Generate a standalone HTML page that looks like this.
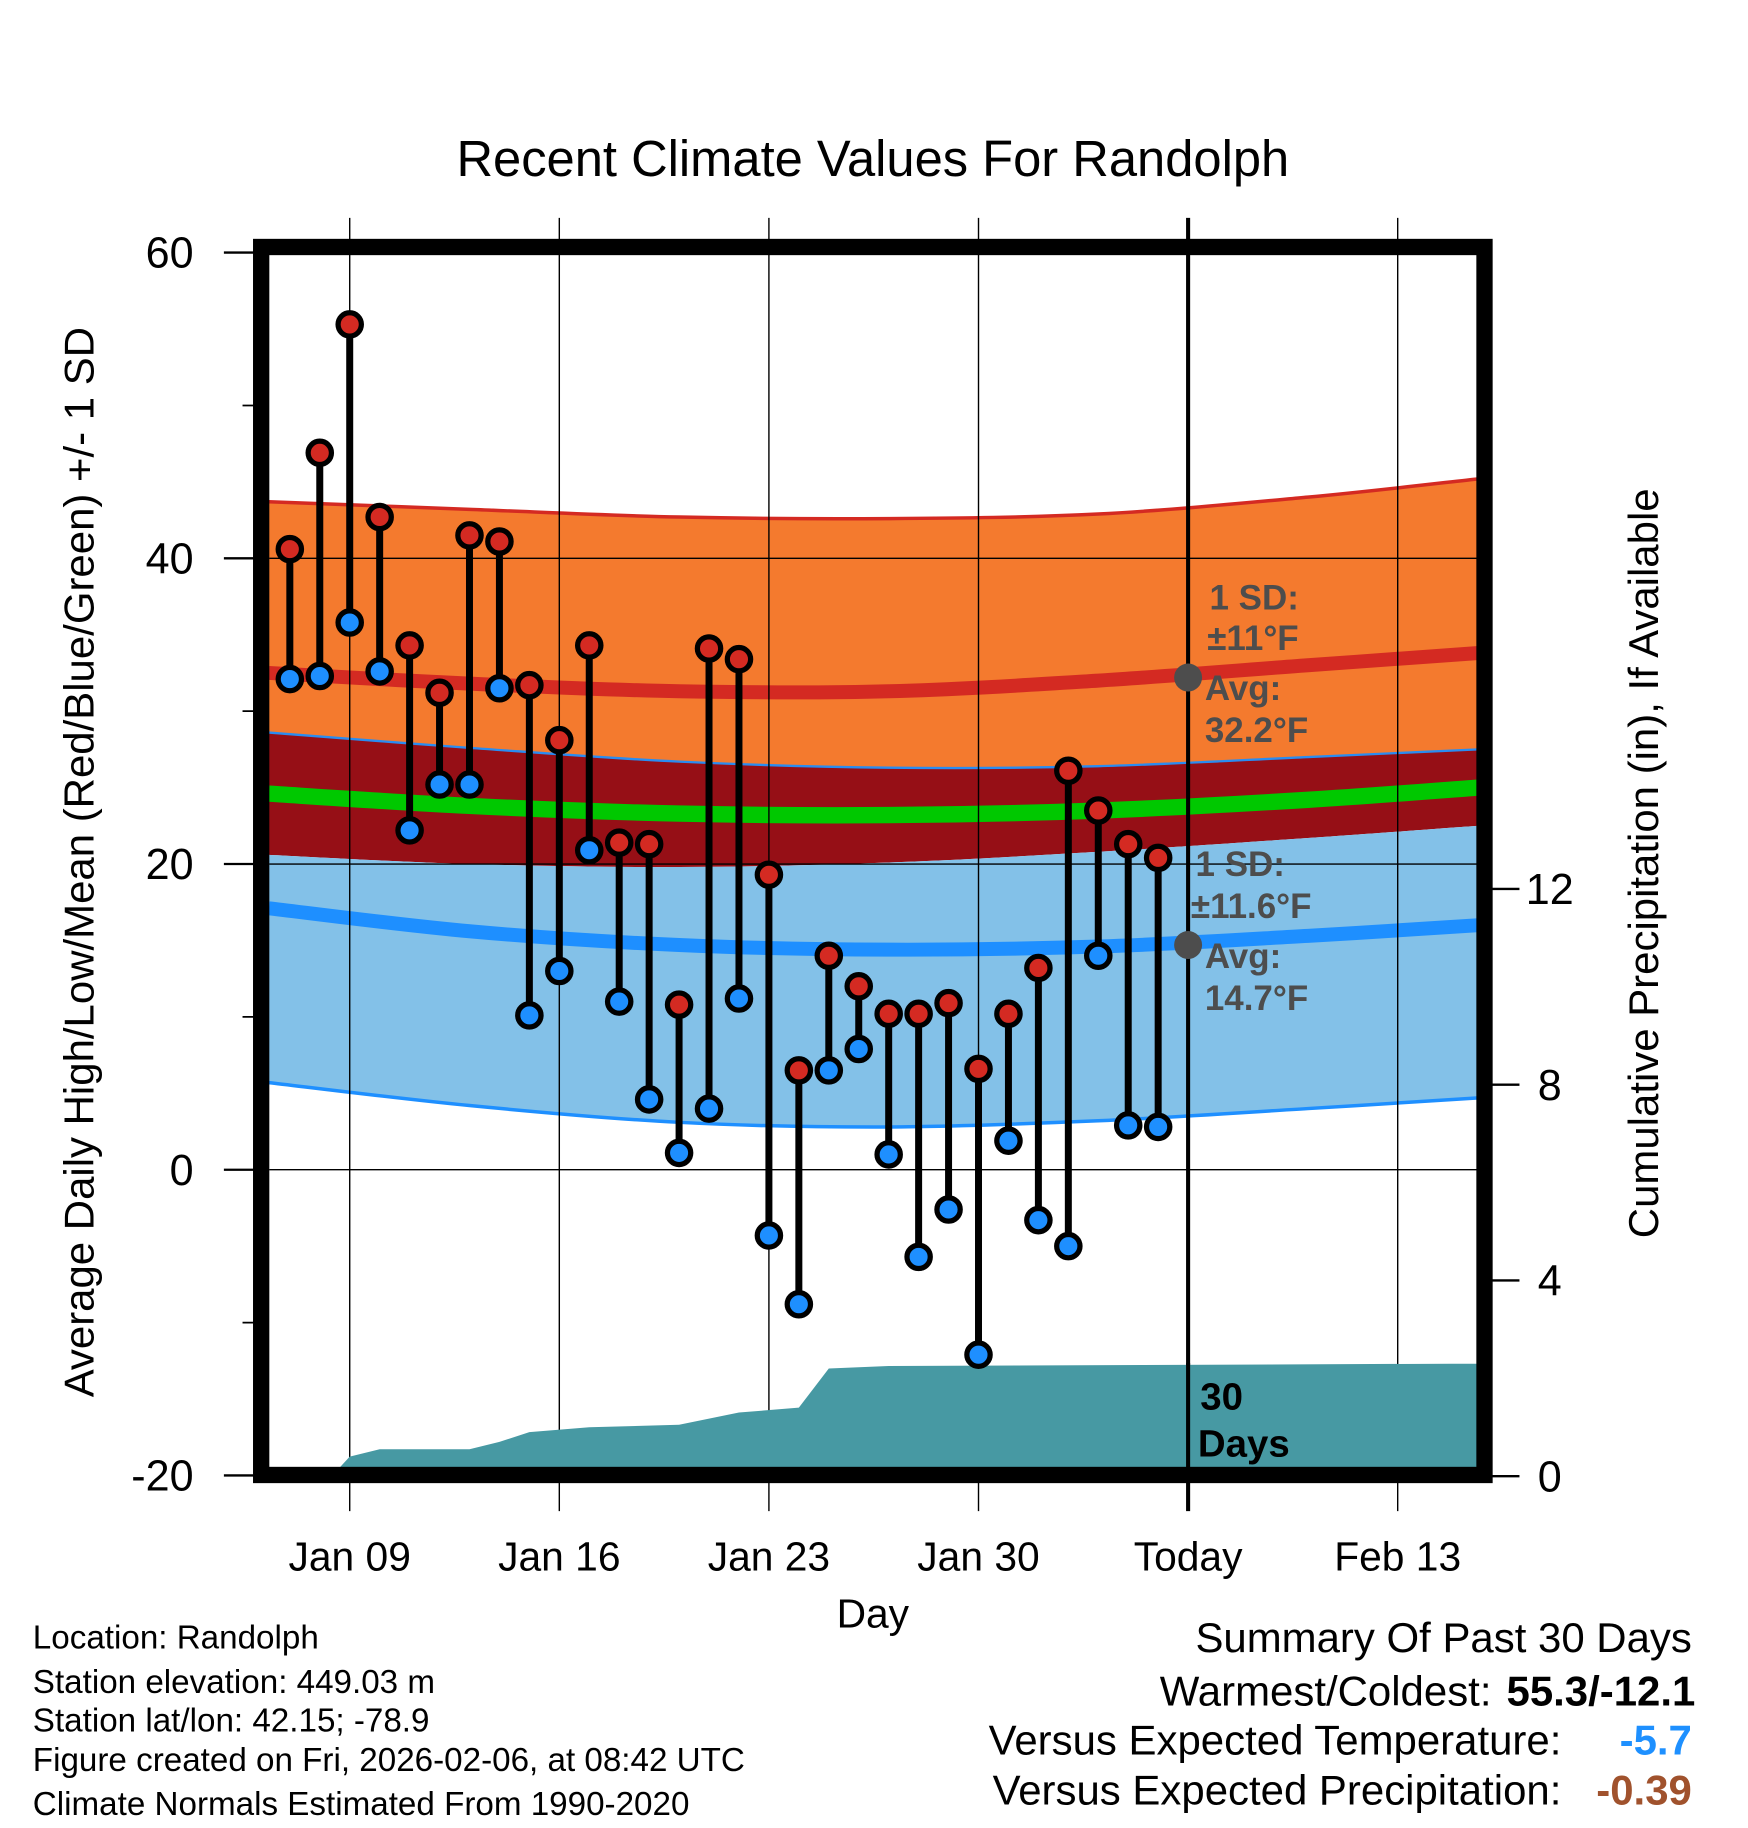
<!DOCTYPE html>
<html><head><meta charset="utf-8"><style>
html,body{margin:0;padding:0;background:#fff}
svg{display:block;font-family:"Liberation Sans",sans-serif}
</style></head><body>
<svg id="chart" xmlns="http://www.w3.org/2000/svg" width="1748" height="1828" viewBox="0 0 1500 1569">
<rect x="0" y="0" width="1500" height="1569" fill="#fff"/>
<g id="bands"></g>
<g id="grid"></g>
<g id="precip"></g>
<g id="marks"></g>
<g id="axes"></g>
<text x="749" y="151" font-size="43.5" text-anchor="middle">Recent Climate Values For Randolph</text>
<text transform="translate(80,740) rotate(-90)" font-size="36" text-anchor="middle">Average Daily High/Low/Mean (Red/Blue/Green) +/- 1 SD</text>
<text transform="translate(1423,741) rotate(-90)" font-size="36" text-anchor="middle">Cumulative Precipitation (in), If Available</text>
<text x="749" y="1397" font-size="35" text-anchor="middle">Day</text>
<g font-size="30" font-weight="bold" fill="#4d4d4d">
<text x="1038" y="523">1 SD:</text><text x="1036" y="558">±11°F</text>
<text x="1034" y="601">Avg:</text><text x="1034" y="637">32.2°F</text>
<text x="1026" y="752">1 SD:</text><text x="1022" y="788">±11.6°F</text>
<text x="1034" y="831">Avg:</text><text x="1034" y="867">14.7°F</text>
</g>
<g font-size="33" font-weight="bold">
<text x="1030" y="1210">30</text><text x="1028" y="1250">Days</text></g>
<g font-size="28.5">
<text x="28" y="1415">Location: Randolph</text>
<text x="28" y="1453">Station elevation: 449.03 m</text>
<text x="28" y="1486">Station lat/lon: 42.15; -78.9</text>
<text x="28" y="1520">Figure created on Fri, 2026-02-06, at 08:42 UTC</text>
<text x="28" y="1558">Climate Normals Estimated From 1990-2020</text>
</g>
<g font-size="36">
<text x="1452" y="1418" text-anchor="end">Summary Of Past 30 Days</text>
<text x="1280" y="1464" text-anchor="end">Warmest/Coldest:</text>
<text x="1455" y="1464" text-anchor="end" font-weight="bold">55.3/-12.1</text>
<text x="1340" y="1506" text-anchor="end">Versus Expected Temperature:</text>
<text x="1452" y="1506" text-anchor="end" font-weight="bold" fill="#1e90ff">-5.7</text>
<text x="1340" y="1549" text-anchor="end">Versus Expected Precipitation:</text>
<text x="1452" y="1549" text-anchor="end" font-weight="bold" fill="#a0522d">-0.39</text>
</g>
</svg>
<script>
const days=[7,8,9,10,11,12,13,14,15,16,17,18,19,20,21,22,23,24,25,26,27,28,29,30,31,32,33,34,35,36];
const highs=[40.6,46.9,55.3,42.7,34.3,31.2,41.5,41.1,31.7,28.1,34.3,21.4,21.3,10.8,34.1,33.4,19.3,6.5,14.0,12.0,10.2,10.2,10.9,6.6,10.2,13.2,26.1,23.5,21.3,20.4];
const lows=[32.1,32.3,35.8,32.6,22.2,25.2,25.2,31.5,10.1,13.0,20.9,11.0,4.6,1.1,4.0,11.2,-4.3,-8.8,6.5,7.9,1.0,-5.7,-2.6,-12.1,1.9,-3.3,-5.0,14.0,2.9,2.8];
const normDays=[6.3,13,20,27,34,41,46.7];
const highUpper=[43.7,43.2,42.7,42.6,42.9,44.0,45.2];
const highMean=[32.5,31.8,31.3,31.3,32.0,33.0,33.8];
const highLower=[28.6,27.6,26.7,26.3,26.4,27.0,27.5];
const meanVals=[24.6,23.8,23.3,23.2,23.5,24.2,25.0];
const lowUpper=[20.6,20.0,19.8,20.1,20.8,21.7,22.5];
const lowMean=[17.1,15.6,14.7,14.4,14.6,15.3,16.0];
const lowLower=[5.7,4.2,3.1,2.8,3.2,4.0,4.7];
const precipDays=[8.4,9,10,13,14,15,17,20,22,24,25,27,46.7];
const precipVals=[0,0.4,0.55,0.55,0.7,0.9,1.0,1.05,1.3,1.4,2.2,2.25,2.3];
const yTicks=[60,40,20,0,-20];
const pTicks=[0,4,8,12];
const xTickDays=[9,16,23,30,37,44];
const xTickLabels=["Jan 09","Jan 16","Jan 23","Jan 30","Today","Feb 13"];
const todayDay=37, todayHigh=32.2, todayLow=14.7;

const X=d=>300+(d-9)*25.7, Y=v=>1004-v*13.12, P=v=>1267-v*42;
const L=231,R=1268,T=219,B=1260;
const NS="http://www.w3.org/2000/svg";
function mk(parent,tag,attrs){const e=document.createElementNS(NS,tag);for(const k in attrs)e.setAttribute(k,attrs[k]);document.getElementById(parent).appendChild(e);return e;}
function pts(arr){return normDays.map((d,i)=>[X(d),Y(arr[i])]);}
function smooth(p,start){let s=start?'M'+p[0][0].toFixed(1)+','+p[0][1].toFixed(1):'L'+p[0][0].toFixed(1)+','+p[0][1].toFixed(1);
 for(let i=0;i<p.length-1;i++){const p0=p[Math.max(0,i-1)],p1=p[i],p2=p[i+1],p3=p[Math.min(p.length-1,i+2)];
  const c1=[p1[0]+(p2[0]-p0[0])/6,p1[1]+(p2[1]-p0[1])/6],c2=[p2[0]-(p3[0]-p1[0])/6,p2[1]-(p3[1]-p1[1])/6];
  s+='C'+c1.map(v=>v.toFixed(1)).join(',')+' '+c2.map(v=>v.toFixed(1)).join(',')+' '+p2.map(v=>v.toFixed(1)).join(',');}
 return s;}
function line(arr){return smooth(pts(arr),true);}
function band(a,b){return smooth(pts(a),true)+smooth(pts(b).reverse(),false)+'Z';}
let e;
e=mk('bands','path',{d:band(highUpper,highLower),fill:'#f47a2e'});

e=mk('bands','path',{d:band(highLower,lowUpper),fill:'#960f16'});

e=mk('bands','path',{d:band(lowUpper,lowLower),fill:'#83c1e8'});

e=mk('bands','path',{d:line(highUpper),fill:'none',stroke:'#d42a22','stroke-width':3});

e=mk('bands','path',{d:line(highMean),fill:'none',stroke:'#d42a22','stroke-width':12});

e=mk('bands','path',{d:line(highLower),fill:'none',stroke:'#2a8cf0','stroke-width':2});

e=mk('bands','path',{d:line(meanVals),fill:'none',stroke:'#00c800','stroke-width':14});

e=mk('bands','path',{d:line(lowMean),fill:'none',stroke:'#1e8fff','stroke-width':12});

e=mk('bands','path',{d:line(lowLower),fill:'none',stroke:'#1e8fff','stroke-width':3});

// grid
yTicks.forEach(v=>{e=mk('grid','line',{x1:L,x2:R,y1:Y(v),y2:Y(v),stroke:'#000','stroke-width':1.2});
});
xTickDays.forEach((d,i)=>{e=mk('grid','line',{x1:X(d),x2:X(d),y1:187,y2:1297,stroke:'#000','stroke-width':d===todayDay?3.5:1.2});
});
// precip
let pd='M'+X(precipDays[0])+','+B;
precipDays.forEach((d,i)=>{pd+='L'+X(d).toFixed(1)+','+P(precipVals[i]).toFixed(1);});
pd+='L'+R+','+P(precipVals[precipVals.length-1])+'L'+R+','+B+'Z';
e=mk('precip','path',{d:pd,fill:'#4799a3'});

e=mk('precip','line',{x1:X(todayDay),x2:X(todayDay),y1:1170,y2:B,stroke:'#000','stroke-width':3.5});

// normal dots
e=mk('marks','circle',{cx:X(todayDay),cy:Y(todayHigh),r:12,fill:'#4d4d4d'});

e=mk('marks','circle',{cx:X(todayDay),cy:Y(todayLow),r:12,fill:'#4d4d4d'});

// marks
days.forEach((d,i)=>{
 e=mk('marks','line',{x1:X(d),x2:X(d),y1:Y(highs[i]),y2:Y(lows[i]),stroke:'#000','stroke-width':6});
 
});
days.forEach((d,i)=>{
 e=mk('marks','circle',{cx:X(d),cy:Y(highs[i]),r:10,fill:'#d42a22',stroke:'#000','stroke-width':4.5});
 
 e=mk('marks','circle',{cx:X(d),cy:Y(lows[i]),r:10,fill:'#1e8fff',stroke:'#000','stroke-width':4.5});
 
});
// frame
e=mk('axes','rect',{x:224,y:212,width:1050,height:1054,fill:'none',stroke:'#000','stroke-width':14});

yTicks.forEach(v=>{
 e=mk('axes','line',{x1:192,x2:224,y1:Y(v),y2:Y(v),stroke:'#000','stroke-width':2});
 
 e=mk('axes','text',{x:166,y:Y(v)+13,'font-size':37,'text-anchor':'end'});e.textContent=v;
 
});
[50,30,10,-10].forEach(v=>{e=mk('axes','line',{x1:208,x2:224,y1:Y(v),y2:Y(v),stroke:'#000','stroke-width':1.5});
 });
pTicks.forEach(v=>{
 e=mk('axes','line',{x1:1274,x2:1304,y1:P(v),y2:P(v),stroke:'#000','stroke-width':2});
 
 e=mk('axes','text',{x:1330,y:P(v)+13,'font-size':37,'text-anchor':'middle'});e.textContent=v;
 
});
xTickDays.forEach((d,i)=>{
 e=mk('axes','text',{x:X(d),y:1348,'font-size':35,'text-anchor':'middle'});e.textContent=xTickLabels[i];
 
});
</script>
</body></html>
